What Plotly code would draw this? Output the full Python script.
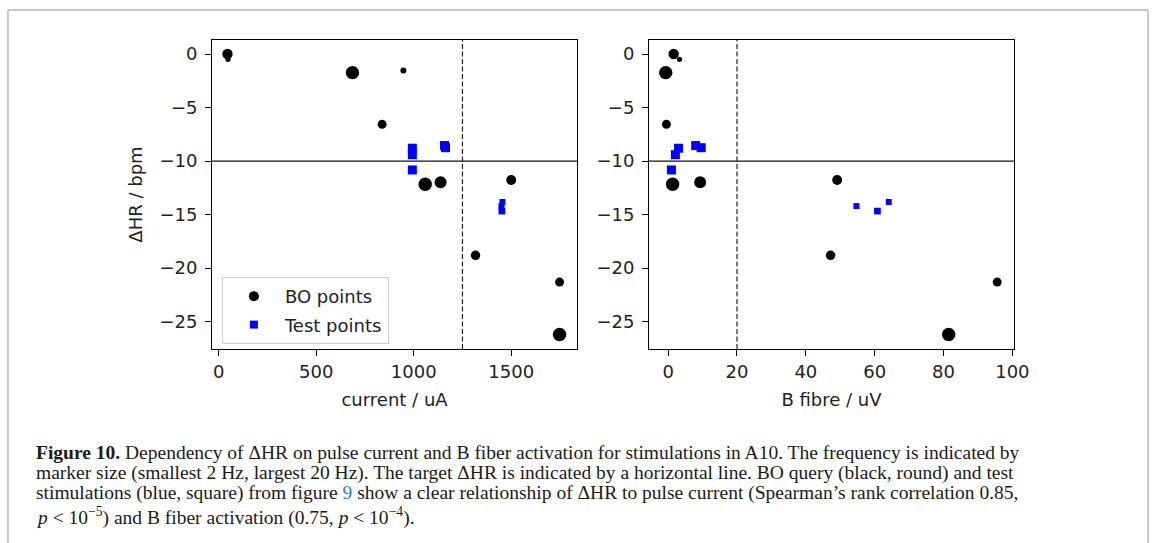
import numpy as np
import plotly.graph_objects as go

# ---------------- data ----------------
bo_current = [45, 48, 686, 947, 838, 1059, 1138, 1500, 1317, 1748, 1748]
bo_bfibre = [1.6, 3.3, -0.7, -0.5, -0.5, 1.3, 9.3, 49.1, 47.2, 95.6, 81.5]
bo_dhr = [0.0, -0.5, -1.74, -1.55, -6.57, -12.17, -11.98, -11.76, -18.8, -21.3, -26.2]
bo_freq = [12, 3, 20, 4, 9, 20, 16, 11, 10, 9, 20]

test_current = [993, 993, 993, 1158, 1163, 1450, 1452, 1455]
test_bfibre = [3.0, 2.1, 0.95, 8.0, 9.6, 54.7, 60.8, 64.1]
test_dhr = [-8.8, -9.4, -10.83, -8.55, -8.75, -14.2, -14.67, -13.82]
test_freq = [9, 9, 9, 9, 9, 4, 5, 4]

target_dhr = -10
current_threshold = 1250
bfibre_threshold = 20

x1_ticks = [0, 500, 1000, 1500]
x2_ticks = [0, 20, 40, 60, 80, 100]
y_ticks = [0, -5, -10, -15, -20, -25]

caption_lines = [
    "<b>Figure 10.</b> Dependency of ΔHR on pulse current and B fiber activation for stimulations in A10. The frequency is indicated by",
    "marker size (smallest 2 Hz, largest 20 Hz). The target ΔHR is indicated by a horizontal line. BO query (black, round) and test",
    "stimulations (blue, square) from figure <span style='color:#2f7fc1'>9</span> show a clear relationship of ΔHR to pulse current (Spearman’s rank correlation 0.85,",
    "<i>p</i> &lt; 10<sup>−5</sup>) and B fiber activation (0.75, <i>p</i> &lt; 10<sup>−4</sup>).",
]

# ---------------- layout helpers ----------------
W, H = 1170, 543
def fx(px):
    return px / W
def fy(py):
    return 1 - py / H

def msize(freqs):
    return [3.0 * np.sqrt(f) for f in freqs]

FONT = "DejaVu Sans"
TXT = "#222222"

fig = go.Figure()

fig.add_trace(go.Scatter(
    x=bo_current, y=bo_dhr, mode="markers", name="BO points",
    marker=dict(color="black", size=msize(bo_freq), symbol="circle", opacity=1, line=dict(width=0)),
    xaxis="x", yaxis="y", showlegend=True, legendgroup="bo"))
fig.add_trace(go.Scatter(
    x=test_current, y=test_dhr, mode="markers", name="Test points",
    marker=dict(color="#0000ff", size=msize(test_freq), symbol="square", opacity=1, line=dict(width=0)),
    xaxis="x", yaxis="y", showlegend=True, legendgroup="test"))
fig.add_trace(go.Scatter(
    x=bo_bfibre, y=bo_dhr, mode="markers", name="BO points",
    marker=dict(color="black", size=msize(bo_freq), symbol="circle", opacity=1, line=dict(width=0)),
    xaxis="x2", yaxis="y2", showlegend=False, legendgroup="bo"))
fig.add_trace(go.Scatter(
    x=test_bfibre, y=test_dhr, mode="markers", name="Test points",
    marker=dict(color="#0000ff", size=msize(test_freq), symbol="square", opacity=1, line=dict(width=0)),
    xaxis="x2", yaxis="y2", showlegend=False, legendgroup="test"))

axis_common = dict(
    showline=True, mirror=True, linecolor="black", linewidth=1,
    ticks="outside", ticklen=6, tickwidth=1, tickcolor="black",
    showgrid=False, zeroline=False,
    tickfont=dict(family=FONT, size=18, color=TXT),
)

top_px, bot_px = 40, 349
fig.update_layout(
    width=W, height=H,
    margin=dict(l=0, r=0, t=0, b=0),
    paper_bgcolor="white", plot_bgcolor="white",
    font=dict(family=FONT, size=18, color=TXT),
    xaxis=dict(domain=[fx(215), fx(585)], range=[-33.9, 1837.3], tickvals=x1_ticks,
               title=dict(text="current / uA", font=dict(family=FONT, size=18, color=TXT), standoff=12),
               anchor="y", ticklabelstandoff=0, **axis_common),
    yaxis=dict(domain=[fy(bot_px), fy(top_px)], range=[-27.55, 1.307], tickvals=y_ticks,
               title=dict(text="ΔHR / bpm", font=dict(family=FONT, size=18, color=TXT), standoff=12),
               anchor="x", ticklabelstandoff=4, **axis_common),
    xaxis2=dict(domain=[fx(658), fx(1028)], range=[-5.56, 100.46], tickvals=x2_ticks,
                title=dict(text="B fibre / uV", font=dict(family=FONT, size=18, color=TXT), standoff=12),
                anchor="y2", ticklabelstandoff=0, **axis_common),
    yaxis2=dict(domain=[fy(bot_px), fy(top_px)], range=[-27.55, 1.307], tickvals=y_ticks,
                anchor="x2", ticklabelstandoff=4, **axis_common),
    legend=dict(x=fx(225), y=fy(277), xanchor="left", yanchor="top",
                bgcolor="rgba(255,255,255,0.8)", bordercolor="#cccccc", borderwidth=1,
                font=dict(family=FONT, size=18, color=TXT), itemwidth=52,
                tracegroupgap=2),
)

# reference lines
line_ref = dict(color="#111111", width=1.2)
fig.add_shape(type="line", xref="x domain", yref="y", x0=0, x1=1, y0=target_dhr, y1=target_dhr, line=line_ref)
fig.add_shape(type="line", xref="x2 domain", yref="y2", x0=0, x1=1, y0=target_dhr, y1=target_dhr, line=line_ref)
fig.add_shape(type="line", xref="x", yref="y domain", x0=current_threshold, x1=current_threshold, y0=0, y1=1,
              line=dict(color="#222222", width=1.2, dash="5px,2.5px"))
fig.add_shape(type="line", xref="x2", yref="y2 domain", x0=bfibre_threshold, x1=bfibre_threshold, y0=0, y1=1,
              line=dict(color="#222222", width=1.2, dash="5px,2.5px"))

# frame around figure
frame = dict(color="#c8c8c8", width=2)
fig.add_shape(type="line", xref="paper", yref="paper", x0=fx(8), x1=fx(1164), y0=fy(10), y1=fy(10), line=frame)
fig.add_shape(type="line", xref="paper", yref="paper", x0=fx(8), x1=fx(8), y0=fy(10), y1=fy(545), line=frame)
fig.add_shape(type="line", xref="paper", yref="paper", x0=fx(1164), x1=fx(1164), y0=fy(10), y1=fy(545), line=frame)

# caption
line_centers = [452, 472.5, 493, 516.5]
for txt, yc in zip(caption_lines, line_centers):
    fig.add_annotation(text=txt, xref="paper", yref="paper", x=fx(34), y=fy(yc),
                       xanchor="left", yanchor="middle", showarrow=False,
                       font=dict(family="Liberation Serif", size=19.5, color="#1a1a1a"))

fig.write_html("out.html")
